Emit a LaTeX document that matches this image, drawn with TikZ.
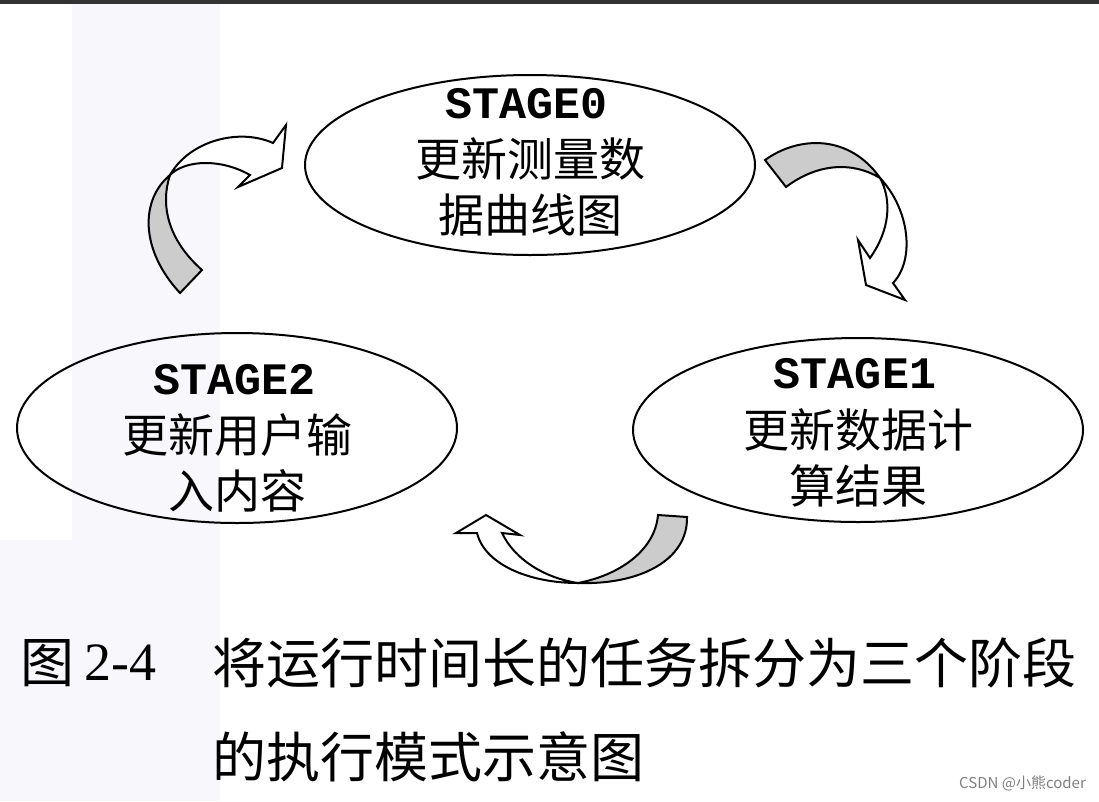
\documentclass[tikz,border=0pt]{standalone}
\usepackage{fontspec}
\setmainfont{Liberation Serif}
\newfontfamily\cjk{Noto Sans CJK SC}
\newfontfamily\mono{Liberation Mono}
\begin{document}
\begin{tikzpicture}[x=1pt,y=-1pt,
  ell/.style={draw,line width=2pt},
  st/.style={font=\mono\bfseries\fontsize{45}{45}\selectfont,inner sep=0pt},
  zh/.style={font=\cjk\fontsize{46}{46}\selectfont,inner sep=0pt},
  captxt/.style={font=\cjk\fontsize{54}{54}\selectfont,inner sep=0pt,anchor=west},
  arr/.style={draw,line width=2pt,line join=miter},
  gfill/.style={arr,fill=black!20},
  wfill/.style={arr,fill=white}]
\useasboundingbox (0,0) rectangle (1099,801);
\fill[white] (0,0) rectangle (1099,801);
\fill[blue!40!gray!4] (72,0) rectangle (220,600);
\fill[blue!40!gray!4] (0,540) rectangle (220,801);
\fill[black!80] (0,0) rectangle (1099,4);
% ellipses
\draw[ell] (530,165) ellipse [x radius=225, y radius=90];
\draw[ell] (237,428) ellipse [x radius=220, y radius=95];
\draw[ell] (858,430) ellipse [x radius=225, y radius=92];
\node[st] (s0) at (527,104) {STAGE0};
\node[zh] (a0) at (530,159) {更新测量数};
\node[zh] (b0) at (530,215) {据曲线图};
\node[st] (s2) at (235,380) {STAGE2};
\node[zh] (a2) at (237,435) {更新用户输};
\node[zh] (b2) at (237,491) {入内容};
\node[st] (s1) at (855,374) {STAGE1};
\node[zh] (a1) at (858,430) {更新数据计};
\node[zh] (b1) at (858,486) {算结果};
% arrow A
\path[gfill] (180,293) .. controls (140,250) and (140,200) .. (170,175) .. controls (160,205) and (168,240) .. (202,270) -- cycle;
\path[wfill] (170,175) .. controls (190,140) and (240,128) .. (273,143) -- (286,125) -- (282,168) -- (238,187) -- (250,175) .. controls (220,158) and (185,160) .. cycle;
% arrow B
\path[gfill] (765,160) .. controls (800,135) and (850,135) .. (880,178) .. controls (850,160) and (815,165) .. (786,187) -- cycle;
\path[wfill] (880,178) .. controls (910,210) and (915,260) .. (893,283) -- (905,300) -- (866,285) -- (858,240) -- (870,258) .. controls (890,230) and (892,200) .. cycle;
% arrow C
\path[gfill] (687,517) .. controls (688,560) and (640,585) .. (578,583) .. controls (620,575) and (655,550) .. (658,515) -- cycle;
\path[wfill] (578,583) .. controls (530,583) and (485,565) .. (477,533) -- (456,533) -- (486,515) -- (520,535) -- (502,533) .. controls (515,560) and (545,578) .. cycle;
% caption
\node[captxt] (c0) at (20,663) {图};
\node[font=\fontsize{54}{54}\selectfont,inner sep=0pt,anchor=west] (c1) at (84,663) {2-4};
\node[captxt] (c2) at (212,663) {将运行时间长的任务拆分为三个阶段};
\node[captxt] (c3) at (212,757) {的执行模式示意图};
\node[font=\cjk\fontsize{15}{15}\selectfont,text=black!50,anchor=east,inner sep=0pt] (wm) at (1086,783) {CSDN @小熊coder};
\end{tikzpicture}
\end{document}
